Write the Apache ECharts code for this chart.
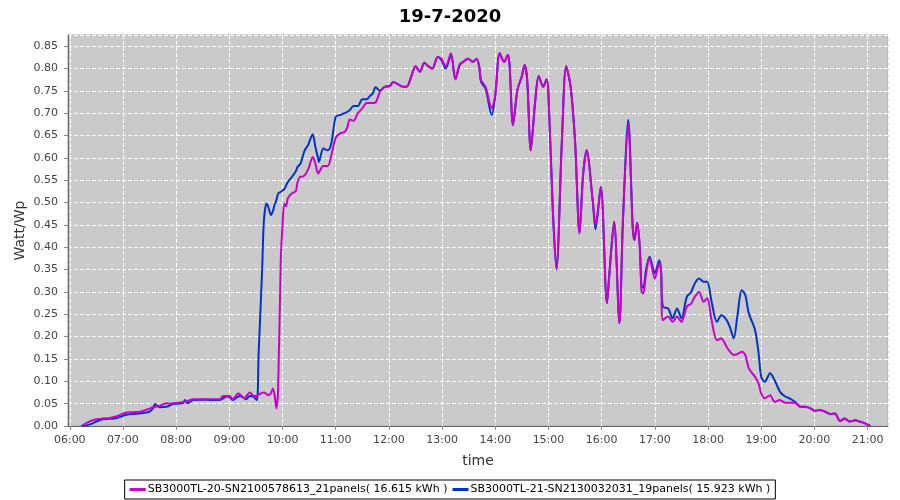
<!DOCTYPE html>
<html>
<head>
<meta charset="utf-8">
<title>19-7-2020</title>
<script src="https://cdn.jsdelivr.net/npm/echarts@6/dist/echarts.min.js"></script>
<style>
  html, body { margin: 0; padding: 0; background: #fff; }
  #chart1 { width: 900px; height: 500px; }
</style>
</head>
<body>
<div id="chart1"></div>
<script>
// meetmomenten (hh:mm), gedeeld door beide omvormers
const times = [
  '06:13', '06:20', '06:26', '06:30', '06:37', '06:45', '06:53', '07:04', '07:12', '07:19',
  '07:26', '07:30', '07:34', '07:36', '07:41', '07:49', '07:53', '07:56', '08:02', '08:08',
  '08:10', '08:13', '08:19', '08:30', '08:40', '08:49', '08:53', '08:57', '09:00', '09:04',
  '09:10', '09:12', '09:17', '09:19', '09:23', '09:27', '09:31', '09:33', '09:37', '09:39',
  '09:42', '09:44', '09:47', '09:49', '09:51', '09:53', '09:55', '09:58', '10:00', '10:02',
  '10:04', '10:06', '10:10', '10:15', '10:17', '10:20', '10:21', '10:25', '10:29', '10:30',
  '10:34', '10:37', '10:40', '10:41', '10:46', '10:51', '10:55', '11:00', '11:05', '11:10',
  '11:13', '11:16', '11:20', '11:25', '11:30', '11:35', '11:38', '11:42', '11:45', '11:50',
  '11:55', '12:01', '12:05', '12:10', '12:16', '12:20', '12:25', '12:30', '12:35', '12:40',
  '12:44', '12:49', '12:55', '12:59', '13:04', '13:10', '13:15', '13:20', '13:24', '13:29',
  '13:35', '13:39', '13:42', '13:44', '13:49', '13:56', '14:00', '14:05', '14:10', '14:14',
  '14:16', '14:20', '14:25', '14:30', '14:33', '14:36', '14:40', '14:45', '14:49', '14:54',
  '14:58', '15:00', '15:05', '15:09', '15:15', '15:20', '15:25', '15:30', '15:35', '15:39',
  '15:43', '15:50', '15:53', '15:59', '16:06', '16:09', '16:14', '16:20', '16:24', '16:30',
  '16:35', '16:37', '16:40', '16:43', '16:45', '16:47', '16:50', '16:54', '17:00', '17:05',
  '17:07', '17:09', '17:15', '17:20', '17:25', '17:30', '17:36', '17:41', '17:45', '17:50',
  '17:55', '17:59', '18:04', '18:10', '18:15', '18:21', '18:25', '18:29', '18:33', '18:38',
  '18:42', '18:46', '18:53', '18:57', '19:00', '19:04', '19:10', '19:15', '19:21', '19:27',
  '19:32', '19:38', '19:44', '19:49', '19:55', '20:01', '20:06', '20:12', '20:18', '20:23',
  '20:29', '20:34', '20:40', '20:46', '20:51', '20:57', '21:03'
];

// SB3000TL-20-SN2100578613_21panels (magenta)
const sn2100 = [
  0.000, 0.008, 0.013, 0.015, 0.017, 0.018, 0.022, 0.030, 0.031, 0.032,
  0.036, 0.039, 0.042, 0.043, 0.045, 0.051, 0.050, 0.051, 0.052, 0.054,
  0.055, 0.056, 0.060, 0.060, 0.060, 0.060, 0.067, 0.067, 0.067, 0.060,
  0.073, 0.071, 0.062, 0.066, 0.075, 0.068, 0.067, 0.070, 0.074, 0.075,
  0.072, 0.069, 0.074, 0.084, 0.070, 0.040, 0.080, 0.370, 0.450, 0.498,
  0.492, 0.510, 0.520, 0.526, 0.546, 0.558, 0.558, 0.561, 0.575, 0.580,
  0.602, 0.588, 0.565, 0.567, 0.582, 0.582, 0.606, 0.645, 0.655, 0.658,
  0.668, 0.686, 0.683, 0.700, 0.711, 0.723, 0.723, 0.723, 0.724, 0.748,
  0.759, 0.761, 0.770, 0.765, 0.759, 0.759, 0.781, 0.805, 0.793, 0.813,
  0.806, 0.800, 0.826, 0.822, 0.805, 0.834, 0.776, 0.810, 0.815, 0.822,
  0.815, 0.822, 0.804, 0.774, 0.759, 0.711, 0.741, 0.834, 0.815, 0.830,
  0.811, 0.673, 0.752, 0.783, 0.808, 0.774, 0.617, 0.726, 0.783, 0.759,
  0.776, 0.741, 0.479, 0.353, 0.632, 0.805, 0.759, 0.636, 0.431, 0.561,
  0.617, 0.502, 0.450, 0.535, 0.275, 0.349, 0.457, 0.230, 0.461, 0.675,
  0.446, 0.416, 0.455, 0.400, 0.300, 0.297, 0.340, 0.375, 0.330, 0.365,
  0.345, 0.237, 0.245, 0.233, 0.245, 0.233, 0.267, 0.274, 0.289, 0.300,
  0.278, 0.286, 0.237, 0.192, 0.196, 0.177, 0.166, 0.159, 0.161, 0.166,
  0.159, 0.129, 0.110, 0.095, 0.073, 0.062, 0.069, 0.054, 0.058, 0.052,
  0.052, 0.052, 0.043, 0.043, 0.040, 0.034, 0.036, 0.032, 0.027, 0.028,
  0.011, 0.017, 0.010, 0.013, 0.010, 0.006, 0.000
];

// SB3000TL-21-SN2130032031_19panels (blauw)
const sn2130 = [
  0.000, 0.002, 0.006, 0.010, 0.015, 0.016, 0.018, 0.025, 0.027, 0.028,
  0.030, 0.032, 0.040, 0.049, 0.042, 0.043, 0.046, 0.049, 0.050, 0.052,
  0.058, 0.051, 0.058, 0.059, 0.058, 0.058, 0.062, 0.066, 0.065, 0.058,
  0.066, 0.067, 0.062, 0.060, 0.067, 0.066, 0.058, 0.160, 0.350, 0.460,
  0.498, 0.490, 0.472, 0.480, 0.495, 0.505, 0.520, 0.524, 0.527, 0.530,
  0.538, 0.546, 0.556, 0.570, 0.580, 0.586, 0.591, 0.617, 0.629, 0.635,
  0.653, 0.625, 0.600, 0.591, 0.621, 0.617, 0.632, 0.692, 0.696, 0.700,
  0.703, 0.707, 0.716, 0.716, 0.731, 0.731, 0.737, 0.745, 0.758, 0.750,
  0.759, 0.761, 0.770, 0.765, 0.759, 0.759, 0.781, 0.805, 0.793, 0.813,
  0.806, 0.800, 0.826, 0.820, 0.800, 0.830, 0.776, 0.808, 0.815, 0.822,
  0.815, 0.822, 0.800, 0.770, 0.755, 0.696, 0.741, 0.834, 0.815, 0.830,
  0.811, 0.673, 0.752, 0.783, 0.808, 0.774, 0.617, 0.726, 0.783, 0.759,
  0.776, 0.741, 0.479, 0.350, 0.632, 0.805, 0.759, 0.636, 0.431, 0.561,
  0.617, 0.502, 0.440, 0.535, 0.275, 0.349, 0.457, 0.230, 0.461, 0.685,
  0.446, 0.416, 0.455, 0.400, 0.312, 0.310, 0.349, 0.379, 0.342, 0.371,
  0.349, 0.267, 0.263, 0.241, 0.263, 0.241, 0.289, 0.300, 0.319, 0.330,
  0.323, 0.323, 0.278, 0.233, 0.248, 0.237, 0.219, 0.196, 0.245, 0.304,
  0.293, 0.252, 0.215, 0.163, 0.110, 0.099, 0.118, 0.103, 0.077, 0.066,
  0.062, 0.054, 0.043, 0.043, 0.040, 0.034, 0.036, 0.032, 0.027, 0.028,
  0.011, 0.017, 0.010, 0.013, 0.010, 0.006, 0.000
];

const yTicks = { min: 0, max: 0.875, step: 0.05 };
const xRange = ['05:58', '21:23'];
const names = [
  'SB3000TL-20-SN2100578613_21panels( 16.615 kWh )',
  'SB3000TL-21-SN2130032031_19panels( 15.923 kWh )'
];

function toTime(hhmm) {
  const p = hhmm.split(':');
  return new Date(2020, 6, 19, +p[0], +p[1]).getTime();
}

function pairs(values) {
  return times.map((t, i) => [toTime(t), values[i]]);
}

const chart = echarts.init(document.getElementById('chart1'));
const font = 'DejaVu Sans';

chart.setOption({
  animation: false,
  title: {
    text: '19-7-2020',
    left: 'center',
    top: 3,
    textStyle: { fontFamily: font, fontSize: 18, fontWeight: 'bold', color: '#000' }
  },
  grid: {
    left: 68,
    right: 12,
    top: 35,
    bottom: 74,
    show: true,
    backgroundColor: '#cacaca',
    borderColor: '#a8a8a8',
    borderWidth: 1
  },
  legend: {
    bottom: 1,
    left: 'center',
    data: names,
    itemWidth: 16,
    itemHeight: 3,
    itemGap: 5,
    padding: [4, 5],
    borderColor: '#000',
    borderWidth: 1,
    icon: 'rect',
    textStyle: { fontFamily: font, fontSize: 11, color: '#000', padding: [0, 0, 0, -3] }
  },
  xAxis: {
    type: 'time',
    min: toTime(xRange[0]),
    max: toTime(xRange[1]),
    minInterval: 3600 * 1000,
    maxInterval: 3600 * 1000,
    name: 'time',
    nameLocation: 'middle',
    nameGap: 28,
    nameTextStyle: { fontFamily: font, fontSize: 14, color: '#333' },
    axisLine: { lineStyle: { color: '#666', width: 1 } },
    axisTick: { show: true, length: 4, lineStyle: { color: '#888' } },
    axisLabel: {
      fontFamily: font,
      fontSize: 11,
      color: '#444',
      margin: 9,
      showMinLabel: false,
      showMaxLabel: false,
      formatter: '{HH}:{mm}'
    },
    splitLine: { show: true, lineStyle: { color: '#fff', type: 'dashed', width: 1 } }
  },
  yAxis: {
    type: 'value',
    min: yTicks.min,
    max: yTicks.max,
    interval: yTicks.step,
    name: 'Watt/Wp',
    nameLocation: 'middle',
    nameGap: 41,
    nameMoveOverlap: false,
    nameTextStyle: { fontFamily: font, fontSize: 14, color: '#333' },
    axisLine: { show: true, lineStyle: { color: '#666', width: 1 } },
    axisTick: { show: true, length: 4, lineStyle: { color: '#888' } },
    axisLabel: {
      fontFamily: font,
      fontSize: 11,
      color: '#444',
      margin: 10,
      showMaxLabel: false,
      formatter: v => v.toFixed(2)
    },
    splitLine: { show: true, lineStyle: { color: '#fff', type: 'dashed', width: 1 } }
  },
  series: [
    {
      name: names[1],
      type: 'line',
      data: pairs(sn2130),
      smooth: 0.3,
      showSymbol: false,
      itemStyle: { color: '#0033cc' },
      lineStyle: { color: '#0033cc', width: 2 }
    },
    {
      name: names[0],
      type: 'line',
      data: pairs(sn2100),
      smooth: 0.3,
      showSymbol: false,
      itemStyle: { color: '#cc00cc' },
      lineStyle: { color: '#cc00cc', width: 2 }
    }
  ]
});
</script>
</body>
</html>
